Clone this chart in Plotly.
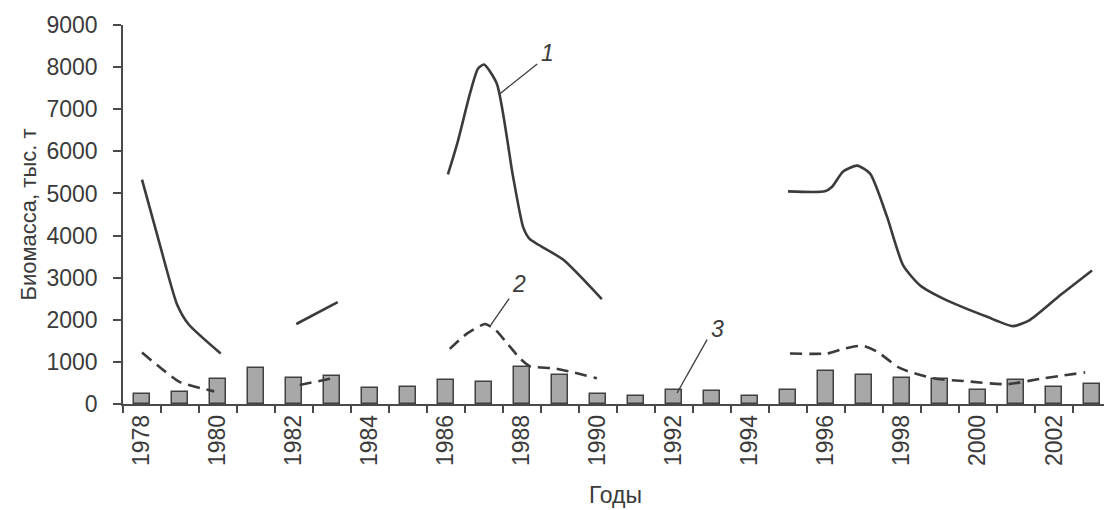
import plotly.graph_objects as go

# ---- data ----
years = list(range(1978, 2004))
biomass_bars = [240, 285, 600, 865, 620, 665, 385, 395, 565, 520, 875, 690, 240,
                180, 325, 315, 195, 330, 790, 690, 610, 595, 330, 560, 400, 465]

line1_x = [1978.0, 1978.45, 1978.92, 1979.22, 1980.07, None,
           1982.06, 1983.15, None,
           1986.05, 1986.3, 1986.63, 1986.84, 1987.0, 1987.34, 1987.76, 1988.03, 1988.2, 1989.08, 1990.1, None,
           1995.0, 1995.97, 1996.16, 1996.45, 1996.82, 1997.16, 1997.6, 1998.03, 1998.47, 1999.18,
           2000.24, 2000.92, 2001.37, 2002.16, 2003.0]
line1_y = [5330, 3850, 2370, 1900, 1200, None,
           1900, 2420, None,
           5450, 6200, 7370, 7960, 8060, 7600, 5420, 4200, 3920, 3430, 2490, None,
           5050, 5050, 5160, 5520, 5660, 5470, 4460, 3290, 2820, 2460,
           2070, 1850, 2000, 2580, 3170]

line2_x = [1978.0, 1978.5, 1979.0, 1979.9, None,
           1982.15, 1983.0, None,
           1986.1, 1986.55, 1987.03, 1987.3, 1987.6, 1987.95, 1988.2, 1988.9, 1989.97, None,
           1995.05, 1996.03, 1996.45, 1996.95, 1997.34, 1997.95, 1998.82, 1999.7, 2000.76, 2001.71, 2002.82]
line2_y = [1220, 850, 520, 300, None,
           450, 610, None,
           1310, 1670, 1900, 1760, 1450, 1080, 900, 840, 610, None,
           1200, 1200, 1310, 1385, 1245, 850, 610, 540, 470, 610, 750]

y_ticks = list(range(0, 10000, 1000))
x_ticklabels = [y for y in years if y % 2 == 0]

# annotation labels: (text, text_x, text_y, point_x, point_y, leader_end_x, leader_end_y)
labels = [
    ("1", 1988.68, 8330, 1987.42, 7370, 1988.4, 8075),
    ("2", 1987.92, 2840, 1987.18, 1880, 1987.66, 2500),
    ("3", 1993.15, 1790, 1992.08, 260, 1992.87, 1530),
]

ink = "#3b3b3b"
font_family = "Liberation Sans, Arial, sans-serif"

fig = go.Figure()

fig.add_trace(go.Bar(
    x=years, y=biomass_bars, width=0.42,
    marker=dict(color="#a8a8a8", line=dict(color="#404040", width=1.5)),
    showlegend=False,
))

fig.add_trace(go.Scatter(
    x=line1_x, y=line1_y, mode="lines", connectgaps=False,
    line=dict(color=ink, width=2.6, shape="spline", smoothing=0.6),
    showlegend=False,
))

fig.add_trace(go.Scatter(
    x=line2_x, y=line2_y, mode="lines", connectgaps=False,
    line=dict(color=ink, width=2.6, shape="spline", smoothing=0.6, dash="12px,7px"),
    showlegend=False,
))

shapes = []
annotations = []
for txt, tx, ty, px, py, lx, ly in labels:
    shapes.append(dict(type="line", xref="x", yref="y", x0=px, y0=py, x1=lx, y1=ly,
                       line=dict(color=ink, width=1.3)))
    annotations.append(dict(x=tx, y=ty, xref="x", yref="y", text="<i>%s</i>" % txt,
                            showarrow=False, font=dict(size=23, color=ink, family=font_family)))

# page body has an 8px default margin, so the figure is sized to fit inside it
fig.update_layout(
    width=1104, height=502,
    margin=dict(l=115, r=4, t=13, b=106),
    paper_bgcolor="white", plot_bgcolor="white",
    font=dict(family=font_family, color=ink),
    shapes=shapes, annotations=annotations,
    bargap=0,
    xaxis=dict(
        range=[1977.5, 2003.42], tickmode="array", tickvals=x_ticklabels,
        ticktext=[str(v) for v in x_ticklabels], tickangle=-90,
        ticks="", showgrid=False, zeroline=False,
        showline=True, linecolor="#4a4a4a", linewidth=1.5,
        tickfont=dict(size=23, color=ink),
        minor=dict(tick0=1977.5, dtick=1, ticks="outside", ticklen=7,
                   tickcolor="#4a4a4a", tickwidth=1.5, showgrid=False),
        title=dict(text="Годы", font=dict(size=23, color=ink), standoff=22),
    ),
    yaxis=dict(
        range=[0, 9000], tickmode="array", tickvals=y_ticks,
        ticks="outside", ticklen=8, tickcolor="#4a4a4a", tickwidth=1.5,
        ticklabelstandoff=11,
        showgrid=False, zeroline=False,
        showline=True, linecolor="#4a4a4a", linewidth=1.5,
        tickfont=dict(size=23, color=ink),
        title=dict(text="Биомасса, тыс. т", font=dict(size=22, color=ink), standoff=4),
    ),
)

fig.write_html("out.html")
